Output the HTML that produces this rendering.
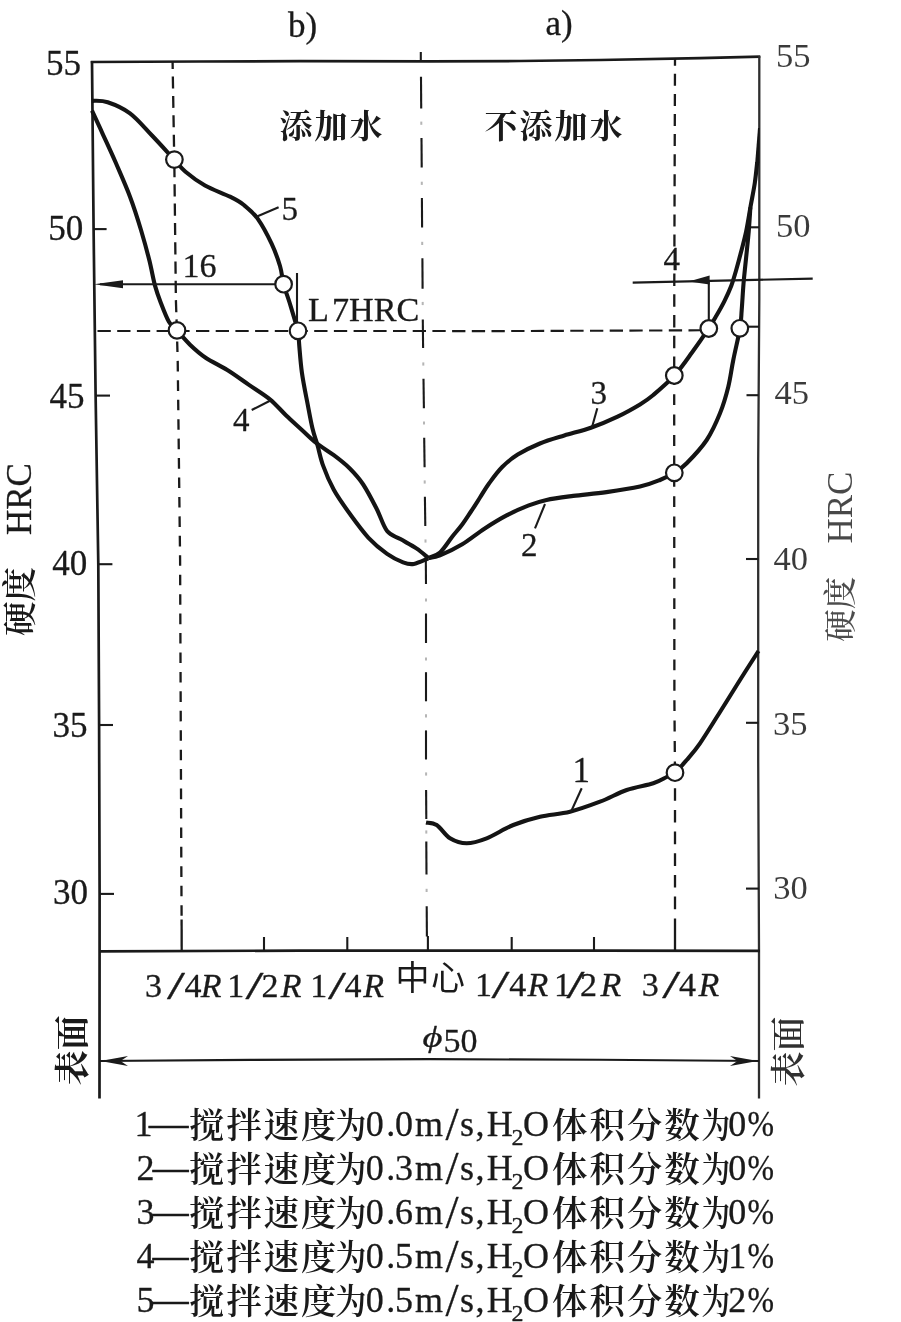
<!DOCTYPE html>
<html lang="zh-CN">
<head>
<meta charset="utf-8">
<title>硬度分布曲线</title>
<style>
  html, body { margin: 0; padding: 0; background: #ffffff; }
  body { width: 901px; height: 1322px; overflow: hidden; }
  svg { display: block; filter: blur(0.4px); }
  .lat { font-family: "Liberation Serif", "Noto Serif CJK SC", serif; fill: #1a1a1a; stroke: #1a1a1a; stroke-width: 0.3px; stroke-linejoin: round; }
  .lite { stroke-width: 0; }
  .song { font-family: "Liberation Serif", "Noto Serif CJK SC", serif; fill: #1a1a1a; }
  .hei { font-family: "Liberation Sans", "Noto Sans CJK SC", sans-serif; fill: #1a1a1a; }
  .ax { stroke: #1a1a1a; stroke-width: 2.7; fill: none; stroke-linecap: butt; }
  .thin { stroke: #1a1a1a; stroke-width: 2.1; fill: none; }
  .cv { stroke: #141414; stroke-width: 4.1; fill: none; stroke-linecap: butt; stroke-linejoin: round; }
  .dv { stroke: #1a1a1a; stroke-width: 2.3; fill: none; }
  .dvs { stroke: #1a1a1a; stroke-width: 2.3; fill: none; }
  .dh { stroke: #1a1a1a; stroke-width: 2.1; fill: none; }
  .cl { stroke: #1a1a1a; stroke-width: 2.1; fill: none; }
  .dot { stroke: #b5b5b5; stroke-width: 2; fill: none; }
  .pt { stroke: #1a1a1a; stroke-width: 2.2; fill: #ffffff; }
</style>
</head>
<body>
<svg width="901" height="1322" viewBox="0 0 901 1322">
  <rect x="0" y="0" width="901" height="1322" fill="#ffffff"/>

  <!-- ===== frame / axes ===== -->
  <g id="axes">
    <!-- top border -->
    <polyline class="ax" points="90.8,62 200,61.5 300,61.2 430,61.4 520,61 600,60 700,58.2 760.3,56.7"/>
    <!-- left axis -->
    <polyline class="ax" points="92,61 93.6,230 95.6,395 98.3,564 99.1,725 99.6,893 99.5,1098.5"/>
    <!-- right axis -->
    <polyline class="ax" style="stroke:#2e2e2e;stroke-width:2.3" points="759.3,56 759.3,300 758.2,460 758.2,760 759,950 759,1098.5"/>
    <!-- bottom axis -->
    <polyline class="ax" points="99,951.4 300,950.6 600,950.6 760,950.8"/>
    <!-- small tick above top border at centre -->
    <line class="thin" x1="420.8" y1="52" x2="420.8" y2="61"/>
  </g>

  <!-- ===== ticks ===== -->
  <g id="ticks" class="thin">
    <!-- left -->
    <line x1="93.6" y1="229.1" x2="106.6" y2="229.1"/>
    <line x1="95.6" y1="395.6" x2="110" y2="395.6"/>
    <line x1="98.3" y1="564.2" x2="112.4" y2="564.2"/>
    <line x1="99.1" y1="725" x2="113" y2="725"/>
    <line x1="99.6" y1="893.9" x2="114" y2="893.9"/>
    <!-- right -->
    <line x1="747.5" y1="227.3" x2="759" y2="227.3"/>
    <line x1="747.5" y1="326.7" x2="759" y2="326.7"/>
    <line x1="746.5" y1="395.2" x2="758.5" y2="395.2"/>
    <line x1="746" y1="559" x2="758.5" y2="559"/>
    <line x1="746" y1="722.8" x2="758.5" y2="722.8"/>
    <line x1="746" y1="888.6" x2="759" y2="888.6"/>
    <!-- bottom -->
    <line x1="264" y1="937" x2="264" y2="950.6"/>
    <line x1="347.3" y1="937" x2="347.3" y2="950.6"/>
    <line x1="511.7" y1="937" x2="511.7" y2="950.6"/>
    <line x1="594" y1="937" x2="594" y2="950.6"/>
  </g>

  <!-- ===== dashed reference lines ===== -->
  <g id="dashes">
    <!-- left 3/4R -->
    <polyline class="dv" points="172.6,62.0 174.1,151.0" stroke-dasharray="12 7.4" stroke-dashoffset="4.9"/>
    <polyline class="dv" points="174.4,168.0 175.9,300.0 176.6,322.0" stroke-dasharray="12.2 7.1" stroke-dashoffset="3"/>
    <polyline class="dv" points="177.1,339.0 177.7,360.0 180.1,560.0 181.3,860.0 181.6,917.0" stroke-dasharray="10.6 8.84" stroke-dashoffset="17"/>
    <line class="dvs" x1="181.6" y1="919.5" x2="181.7" y2="950.6"/>
    <!-- right 3/4R -->
    <polyline class="dv" points="675.0,59.0 674.4,250.0" stroke-dasharray="12 8.1" stroke-dashoffset="5.3"/>
    <polyline class="dv" points="674.4,262.0 674.3,280.0 674.2,367.0" stroke-dasharray="12.5 8.3" stroke-dashoffset="9.4"/>
    <polyline class="dv" points="674.2,384.0 674.2,473.0 674.4,700.0 674.9,764.0" stroke-dasharray="10.9 9.5" stroke-dashoffset="10.2"/>
    <polyline class="dv" points="675.0,781.0 675.0,917.0" stroke-dasharray="12.6 9.07" stroke-dashoffset="14.4"/>
    <line class="dvs" x1="675" y1="918.5" x2="675" y2="950.6"/>
    <!-- 47 HRC -->
    <polyline class="dh" points="96,331 300,331 500,331.1 700,330.3" stroke-dasharray="13.3 6.4" stroke-dashoffset="18.2"/>
    <!-- centre line (long dash / faint dot) -->
    <g class="cl">
      <line x1="421.0" y1="76.7" x2="421.2" y2="108.5"/>
      <line x1="421.5" y1="138.0" x2="421.7" y2="167.4"/>
      <line x1="421.9" y1="198.0" x2="422.1" y2="227.5"/>
      <line x1="422.4" y1="258.2" x2="422.6" y2="288.8"/>
      <line x1="422.8" y1="319.4" x2="423.1" y2="348.0"/>
      <line x1="423.5" y1="378.8" x2="423.9" y2="408.2"/>
      <line x1="424.2" y1="437.7" x2="424.6" y2="467.2"/>
      <line x1="424.9" y1="496.7" x2="425.3" y2="526.0"/>
      <line x1="425.8" y1="556.8" x2="426.0" y2="584.0"/>
      <line x1="426.0" y1="613.5" x2="426.0" y2="643.0"/>
      <line x1="426.0" y1="672.2" x2="426.0" y2="701.3"/>
      <line x1="426.0" y1="730.4" x2="426.0" y2="759.5"/>
      <line x1="426.1" y1="790.0" x2="426.3" y2="819.0"/>
      <line x1="426.3" y1="841.5" x2="426.5" y2="874.5"/>
      <line x1="426.7" y1="906.3" x2="426.9" y2="936.5"/>
      <line x1="427.9" y1="936" x2="427.9" y2="950.6"/>
    </g>
    <g class="dot">
      <line x1="421.3" y1="121.6" x2="421.3" y2="124.8"/>
      <line x1="421.8" y1="181.7" x2="421.8" y2="184.9"/>
      <line x1="422.2" y1="241.8" x2="422.2" y2="245.0"/>
      <line x1="422.7" y1="301.9" x2="422.7" y2="305.1"/>
      <line x1="423.3" y1="362.4" x2="423.3" y2="365.6"/>
      <line x1="424.0" y1="421.4" x2="424.0" y2="424.6"/>
      <line x1="424.7" y1="480.4" x2="424.7" y2="483.6"/>
      <line x1="425.5" y1="539.4" x2="425.5" y2="542.6"/>
      <line x1="426.0" y1="598.4" x2="426.0" y2="601.6"/>
      <line x1="426.0" y1="657.4" x2="426.0" y2="660.6"/>
      <line x1="426.0" y1="714.2" x2="426.0" y2="717.4"/>
      <line x1="426.1" y1="772.4" x2="426.1" y2="775.6"/>
      <line x1="426.3" y1="830.4" x2="426.3" y2="833.6"/>
      <line x1="426.6" y1="888.8" x2="426.6" y2="892.0"/>
    </g>
  </g>

  <!-- ===== curves ===== -->
  <g id="curves">
    <!-- curve 5 -->
    <path id="c5" class="cv" d="M92.0,100.8 C94.6,101.0 101.4,100.1 107.7,102.2 C114.0,104.3 122.6,107.8 130.0,113.3 C137.4,118.8 144.6,127.8 152.0,135.5 C159.4,143.2 168.8,153.7 174.4,159.7 C180.0,165.7 180.4,167.4 185.5,171.7 C190.6,176.0 197.6,181.3 205.0,185.5 C212.4,189.7 223.5,193.4 230.0,196.7 C236.5,199.9 239.3,201.3 243.9,205.0 C248.5,208.7 253.2,212.4 257.8,218.9 C262.4,225.4 268.0,236.1 271.7,243.9 C275.4,251.8 278.0,259.3 280.0,266.0 C282.0,272.7 282.0,278.0 283.6,284.2 C285.2,290.4 287.8,296.8 289.7,303.0 C291.6,309.2 293.9,317.1 295.3,321.7 C296.7,326.3 297.3,326.8 298.0,330.8 C298.7,334.9 298.7,339.0 299.3,346.0 C299.9,353.0 300.6,363.3 301.9,372.6 C303.2,381.9 305.4,392.6 307.2,401.9 C309.0,411.2 310.8,421.5 312.5,428.6 C314.2,435.7 315.5,438.3 317.3,444.5 C319.1,450.7 320.4,458.3 323.2,465.9 C325.9,473.4 329.4,481.8 333.8,489.8 C338.2,497.8 344.0,505.8 349.8,513.8 C355.6,521.8 362.3,531.1 368.5,537.8 C374.7,544.5 381.3,549.7 387.1,553.8 C392.9,557.9 398.7,560.6 403.1,562.3 C407.6,564.0 409.6,564.6 413.8,563.9 C418.0,563.2 426.0,559.2 428.4,558.3"/>
    <!-- curve 4 -->
    <path id="c4" class="cv" d="M92.0,110.6 C93.7,114.3 98.2,124.0 102.2,132.8 C106.2,141.6 111.4,152.7 116.0,163.3 C120.6,174.0 125.8,185.6 130.0,196.7 C134.2,207.8 137.8,219.3 141.0,230.0 C144.2,240.7 147.1,251.3 149.4,260.6 C151.7,269.9 153.1,278.7 155.0,285.6 C156.9,292.5 158.3,296.2 160.6,302.2 C162.9,308.2 166.2,317.0 168.9,321.7 C171.6,326.4 173.5,326.7 177.0,330.5 C180.5,334.3 185.2,340.1 190.0,344.7 C194.8,349.3 199.8,353.8 206.0,358.0 C212.2,362.2 220.2,365.6 227.3,370.0 C234.4,374.4 241.5,379.7 248.6,384.6 C255.7,389.5 263.7,394.2 269.9,399.3 C276.1,404.4 280.6,410.1 285.9,415.2 C291.2,420.3 296.8,425.2 301.9,429.9 C307.0,434.6 311.2,439.0 316.5,443.2 C321.8,447.4 328.2,451.0 333.8,455.2 C339.4,459.4 344.9,463.6 349.8,468.5 C354.7,473.4 358.8,477.8 363.2,484.5 C367.6,491.2 372.5,500.7 376.5,508.5 C380.5,516.3 383.1,526.0 387.1,531.1 C391.1,536.2 395.5,536.2 400.4,539.1 C405.3,542.0 411.7,545.2 416.4,548.4 C421.1,551.5 426.4,556.4 428.4,558.0"/>
    <!-- curve 3 -->
    <path id="c3" class="cv" d="M428.4,558.1 C430.3,557.2 436.1,556.0 440.0,552.5 C443.9,549.0 448.3,541.7 452.0,537.0 C455.7,532.3 459.0,528.8 462.2,524.5 C465.4,520.2 468.0,516.0 471.0,511.5 C474.0,507.0 477.0,502.2 480.0,497.5 C483.0,492.8 485.3,488.6 489.0,483.5 C492.7,478.4 497.4,471.8 502.2,467.0 C507.0,462.2 511.4,458.5 517.7,454.6 C524.0,450.7 532.1,446.7 539.9,443.5 C547.7,440.3 555.8,438.1 564.3,435.5 C572.8,432.9 582.0,430.8 590.9,427.7 C599.8,424.6 609.4,420.5 617.6,416.6 C625.8,412.7 634.0,408.0 640.0,404.4 C646.0,400.8 647.6,399.8 653.3,395.0 C659.0,390.2 667.8,382.8 674.3,375.7 C680.8,368.6 686.3,360.4 692.0,352.5 C697.7,344.6 704.6,334.5 708.7,328.3 C712.8,322.1 713.9,320.0 716.5,315.5 C719.1,311.0 721.8,306.3 724.3,301.3 C726.8,296.3 729.4,290.6 731.3,285.7 C733.2,280.8 734.1,277.2 735.7,271.7 C737.3,266.2 739.2,259.3 740.9,252.6 C742.6,245.9 744.5,239.2 746.1,231.7 C747.7,224.2 749.0,215.5 750.4,207.4 C751.8,199.3 753.7,190.5 754.8,183.0 C755.9,175.5 756.8,165.7 757.2,162.2"/>
    <polygon id="c3t" points="755.2,163 759.3,163 759.6,128 758,128" fill="#141414"/>
    <!-- curve 2 -->
    <path id="c2" class="cv" d="M428.4,558.1 C430.3,557.6 434.4,557.7 440.0,555.4 C445.6,553.1 454.8,548.8 462.2,544.3 C469.6,539.8 477.0,533.5 484.4,528.7 C491.8,523.9 499.2,519.3 506.6,515.4 C514.0,511.5 522.1,508.0 528.8,505.4 C535.4,502.8 539.1,501.5 546.5,499.9 C553.9,498.3 563.2,497.2 573.2,495.9 C583.2,494.6 595.4,493.7 606.5,492.1 C617.6,490.6 631.1,488.6 640.0,486.6 C648.9,484.6 654.3,482.3 660.0,480.0 C665.7,477.7 669.8,475.6 674.3,472.8 C678.8,470.0 681.3,468.8 686.7,463.3 C692.1,457.8 701.2,448.3 706.7,440.0 C712.2,431.7 716.4,422.2 720.0,413.3 C723.6,404.4 726.1,395.6 728.3,386.7 C730.5,377.8 731.3,369.7 733.3,360.0 C735.2,350.3 738.6,336.6 740.0,328.3 C741.4,320.0 741.1,317.4 741.7,310.0 C742.3,302.6 742.9,291.1 743.5,283.9 C744.1,276.6 744.6,272.3 745.2,266.5 C745.8,260.7 746.4,254.9 747.0,249.1 C747.6,243.3 748.1,238.6 748.7,231.7 C749.3,224.8 750.1,211.4 750.4,207.4"/>
    <!-- curve 1 -->
    <path id="c1" class="cv" d="M426.0,822.5 C427.8,822.9 432.7,822.4 436.7,825.0 C440.7,827.6 445.0,835.2 450.0,838.3 C455.0,841.3 460.6,843.3 466.7,843.3 C472.8,843.3 478.9,841.3 486.7,838.3 C494.5,835.2 504.4,828.6 513.3,825.0 C522.2,821.4 530.5,818.9 540.0,816.7 C549.5,814.5 560.0,814.2 570.0,811.7 C580.0,809.2 590.5,805.3 600.0,801.7 C609.5,798.1 617.8,793.1 626.7,790.0 C635.6,786.9 646.6,785.5 653.3,783.3 C660.0,781.1 663.1,778.8 666.7,777.0 C670.3,775.2 671.7,775.5 675.0,772.7 C678.3,769.9 682.5,764.9 686.7,760.0 C690.9,755.1 694.5,751.3 700.0,743.3 C705.5,735.3 713.3,722.5 720.0,712.0 C726.7,701.5 733.6,690.2 740.0,680.0 C746.4,669.8 755.4,655.8 758.5,651.0"/>
  </g>

  <!-- ===== annotation lines / arrows ===== -->
  <g id="ann">
    <!-- "16" arrow -->
    <line class="thin" x1="100" y1="284.2" x2="276" y2="284.2"/>
    <polygon points="94,284.2 123,280.2 123,288.2" fill="#1a1a1a"/>
    <line class="thin" x1="297" y1="273" x2="297" y2="322"/>
    <!-- "4" arrow -->
    <line class="thin" x1="632.7" y1="282.6" x2="812.7" y2="278.6"/>
    <polygon points="688.6,281.6 709.6,275.4 709.6,284.6" fill="#1a1a1a"/>
    <line class="thin" x1="708.8" y1="281" x2="708.8" y2="321"/>
    <!-- leaders -->
    <line class="thin" x1="256.4" y1="216.7" x2="278.6" y2="207.2"/>
    <line class="thin" x1="251.7" y1="410" x2="270" y2="400.7"/>
    <line class="thin" x1="597.3" y1="408.3" x2="591.7" y2="428.3"/>
    <line class="thin" x1="545" y1="504" x2="535" y2="528.3"/>
    <line class="thin" x1="581.7" y1="788.3" x2="571" y2="811.7"/>
    <!-- phi50 dimension line -->
    <polyline class="thin" points="100,1061 250,1059.9 430,1059.1 600,1059.8 759,1061"/>
    <polygon points="100.5,1061 128,1055.9 120.5,1061 128,1066.1" fill="#1a1a1a"/>
    <polygon points="757.6,1061 730,1055.9 737.5,1061 730,1066.1" fill="#1a1a1a"/>
  </g>

  <!-- ===== data points ===== -->
  <g id="points">
    <circle class="pt" cx="174.4" cy="159.6" r="8.3"/>
    <circle class="pt" cx="283.6" cy="284.2" r="8.3"/>
    <circle class="pt" cx="298" cy="330.8" r="8.3"/>
    <circle class="pt" cx="177" cy="330.4" r="8.3"/>
    <circle class="pt" cx="708.8" cy="328.5" r="8.3"/>
    <circle class="pt" cx="739.8" cy="328.3" r="8.3"/>
    <circle class="pt" cx="674.3" cy="375.5" r="8.3"/>
    <circle class="pt" cx="674.3" cy="472.8" r="8.3"/>
    <circle class="pt" cx="675" cy="772.7" r="8.3"/>
  </g>

  <!-- ===== text ===== -->
  <g id="labels">
    <text class="lat" x="288" y="36.8" font-size="35">b)</text>
    <text class="lat" x="545.5" y="35.2" font-size="35">a)</text>

    <!-- left scale -->
    <text class="lat" x="46" y="75" font-size="35">55</text>
    <text class="lat" x="48.3" y="239.6" font-size="35">50</text>
    <text class="lat" x="49.6" y="408" font-size="35">45</text>
    <text class="lat" x="52.3" y="575" font-size="35">40</text>
    <text class="lat" x="52.4" y="737" font-size="35">35</text>
    <text class="lat" x="52.9" y="903.6" font-size="35">30</text>
    <!-- right scale -->
    <text class="lat lite" x="776" y="66.7" font-size="34.5" fill-opacity="0.86">55</text>
    <text class="lat lite" x="775.9" y="236.7" font-size="34.5" fill-opacity="0.86">50</text>
    <text class="lat lite" x="774.6" y="404.2" font-size="34.5" fill-opacity="0.86">45</text>
    <text class="lat lite" x="773.5" y="570" font-size="34.5" fill-opacity="0.86">40</text>
    <text class="lat lite" x="773" y="734.7" font-size="34.5" fill-opacity="0.86">35</text>
    <text class="lat lite" x="773.2" y="898.8" font-size="34.5" fill-opacity="0.86">30</text>

    <!-- axis titles -->
    <text class="song" transform="translate(32.4,636) rotate(-90)" font-size="34.5" font-weight="600">硬度</text>
    <text class="lat" transform="translate(31.2,535) rotate(-90)" font-size="35">HRC</text>
    <text class="song" transform="translate(852.4,641.8) rotate(-90)" font-size="32.5" font-weight="500" fill-opacity="0.78">硬度</text>
    <text class="lat lite" transform="translate(852,543.6) rotate(-90)" font-size="35" fill-opacity="0.8">HRC</text>

    <!-- region titles -->
    <text class="song" x="279.6" y="138.4" font-size="33" font-weight="700" letter-spacing="2">添加水</text>
    <text class="song" x="484.6" y="138.4" font-size="33" font-weight="700" letter-spacing="2">不添加水</text>

    <!-- curve numbers -->
    <text class="lat" x="281.5" y="220.3" font-size="33">5</text>
    <text class="lat" x="233" y="430.7" font-size="33">4</text>
    <text class="lat" x="590.5" y="403.5" font-size="33">3</text>
    <text class="lat" x="521" y="556" font-size="33">2</text>
    <text class="lat" x="572.6" y="782" font-size="35">1</text>
    <text class="lat" x="182.5" y="277.3" font-size="34">16</text>
    <text class="lat" x="663.5" y="270" font-size="33">4</text>
    <text class="lat" x="308" y="321.2" font-size="34.2"><tspan>L</tspan><tspan dx="3">7HRC</tspan></text>

    <!-- bottom scale -->
    <text class="lat" x="145.0" y="996.8" font-size="34">3</text>
    <text class="lat" x="167" y="998.8" font-size="41" textLength="18" lengthAdjust="spacingAndGlyphs">/</text>
    <text class="lat" x="184.4" y="996.8" font-size="34">4</text>
    <text class="lat" x="200.8" y="996.8" font-size="34" font-style="italic">R</text>
    <text class="lat" x="227.3" y="996.8" font-size="34">1</text>
    <text class="lat" x="245.6" y="998.8" font-size="41" textLength="18" lengthAdjust="spacingAndGlyphs">/</text>
    <text class="lat" x="261.4" y="996.8" font-size="34">2</text>
    <text class="lat" x="280.8" y="996.8" font-size="34" font-style="italic">R</text>
    <text class="lat" x="310.3" y="996.6" font-size="34">1</text>
    <text class="lat" x="328" y="998.6" font-size="41" textLength="18" lengthAdjust="spacingAndGlyphs">/</text>
    <text class="lat" x="344.6" y="996.6" font-size="34">4</text>
    <text class="lat" x="363.2" y="996.6" font-size="34" font-style="italic">R</text>
    <text class="hei" x="395.4" y="990.3" font-size="34" font-weight="400" letter-spacing="1.6">中心</text>
    <text class="lat" x="474.9" y="995.8" font-size="34">1</text>
    <text class="lat" x="491.6" y="997.8" font-size="41" textLength="18" lengthAdjust="spacingAndGlyphs">/</text>
    <text class="lat" x="509.3" y="995.8" font-size="34">4</text>
    <text class="lat" x="527.4" y="995.8" font-size="34" font-style="italic">R</text>
    <text class="lat" x="554.0" y="995.8" font-size="34">1</text>
    <text class="lat" x="566.6" y="997.8" font-size="41" textLength="18" lengthAdjust="spacingAndGlyphs">/</text>
    <text class="lat" x="580.0" y="995.8" font-size="34">2</text>
    <text class="lat" x="600.4" y="995.8" font-size="34" font-style="italic">R</text>
    <text class="lat" x="641.8" y="996.4" font-size="34">3</text>
    <text class="lat" x="662.2" y="998.4" font-size="41" textLength="18" lengthAdjust="spacingAndGlyphs">/</text>
    <text class="lat" x="679.0" y="996.4" font-size="34">4</text>
    <text class="lat" x="698.6" y="996.4" font-size="34" font-style="italic">R</text>
    <text class="lat" x="422.6" y="1046.8" font-size="28.5" font-style="italic" textLength="20" lengthAdjust="spacingAndGlyphs">ϕ</text>
    <text class="lat" x="443.4" y="1051.6" font-size="34">50</text>

    <text class="song" transform="translate(85.4,1085.2) rotate(-90)" font-size="35" font-weight="700">表面</text>
    <text class="song" transform="translate(800.9,1086.4) rotate(-90)" font-size="35" font-weight="600" fill-opacity="0.9">表面</text>
  </g>

  <!-- ===== legend ===== -->
  <g id="legend" font-size="36">
    <g transform="translate(0,1136.2)">
      <text class="lat" x="134.6" y="0">1</text>
      <text class="lat" x="148.8" y="0" font-size="40" textLength="39.8" lengthAdjust="spacingAndGlyphs">—</text>
      <text class="song" x="189" y="1.5" font-size="35.5" font-weight="600" letter-spacing="1.75">搅拌速度</text>
      <text class="song" x="335.2" y="1.5" font-size="35.5" font-weight="600" textLength="31" lengthAdjust="spacingAndGlyphs">为</text>
      <text class="lat" x="365.7 386.2 395" y="0">0.0</text>
      <text class="lat" x="415 460 475.5 486.8" y="0">ms,H</text>
      <text class="lat" x="445.6" y="4.2" font-size="47">/</text>
      <text class="lat" x="511.6" y="8.6" font-size="24">2</text>
      <text class="lat" x="523" y="0">O</text>
      <text class="song" x="552" y="1.5" font-size="35.5" font-weight="600" letter-spacing="1.9">体积分数</text>
      <text class="song" x="701.5" y="1.5" font-size="35.5" font-weight="600" textLength="28.5" lengthAdjust="spacingAndGlyphs">为</text>
      <text class="lat" x="728.3" y="0">0</text>
      <text class="lat" x="747.4" y="0" textLength="26.5" lengthAdjust="spacingAndGlyphs">%</text>
    </g>
    <g transform="translate(0,1180.2)">
      <text class="lat" x="136.4" y="0">2</text>
      <text class="lat" x="152.4" y="0" font-size="40" textLength="36.2" lengthAdjust="spacingAndGlyphs">—</text>
      <text class="song" x="189" y="1.5" font-size="35.5" font-weight="600" letter-spacing="1.75">搅拌速度</text>
      <text class="song" x="335.2" y="1.5" font-size="35.5" font-weight="600" textLength="31" lengthAdjust="spacingAndGlyphs">为</text>
      <text class="lat" x="365.7 386.2 395" y="0">0.3</text>
      <text class="lat" x="415 460 475.5 486.8" y="0">ms,H</text>
      <text class="lat" x="445.6" y="4.2" font-size="47">/</text>
      <text class="lat" x="511.6" y="8.6" font-size="24">2</text>
      <text class="lat" x="523" y="0">O</text>
      <text class="song" x="552" y="1.5" font-size="35.5" font-weight="600" letter-spacing="1.9">体积分数</text>
      <text class="song" x="701.5" y="1.5" font-size="35.5" font-weight="600" textLength="28.5" lengthAdjust="spacingAndGlyphs">为</text>
      <text class="lat" x="728.3" y="0">0</text>
      <text class="lat" x="747.4" y="0" textLength="26.5" lengthAdjust="spacingAndGlyphs">%</text>
    </g>
    <g transform="translate(0,1224.1)">
      <text class="lat" x="136.4" y="0">3</text>
      <text class="lat" x="152.4" y="0" font-size="40" textLength="36.2" lengthAdjust="spacingAndGlyphs">—</text>
      <text class="song" x="189" y="1.5" font-size="35.5" font-weight="600" letter-spacing="1.75">搅拌速度</text>
      <text class="song" x="335.2" y="1.5" font-size="35.5" font-weight="600" textLength="31" lengthAdjust="spacingAndGlyphs">为</text>
      <text class="lat" x="365.7 386.2 395" y="0">0.6</text>
      <text class="lat" x="415 460 475.5 486.8" y="0">ms,H</text>
      <text class="lat" x="445.6" y="4.2" font-size="47">/</text>
      <text class="lat" x="511.6" y="8.6" font-size="24">2</text>
      <text class="lat" x="523" y="0">O</text>
      <text class="song" x="552" y="1.5" font-size="35.5" font-weight="600" letter-spacing="1.9">体积分数</text>
      <text class="song" x="701.5" y="1.5" font-size="35.5" font-weight="600" textLength="28.5" lengthAdjust="spacingAndGlyphs">为</text>
      <text class="lat" x="728.3" y="0">0</text>
      <text class="lat" x="747.4" y="0" textLength="26.5" lengthAdjust="spacingAndGlyphs">%</text>
    </g>
    <g transform="translate(0,1268.1)">
      <text class="lat" x="136.4" y="0">4</text>
      <text class="lat" x="152.4" y="0" font-size="40" textLength="36.2" lengthAdjust="spacingAndGlyphs">—</text>
      <text class="song" x="189" y="1.5" font-size="35.5" font-weight="600" letter-spacing="1.75">搅拌速度</text>
      <text class="song" x="335.2" y="1.5" font-size="35.5" font-weight="600" textLength="31" lengthAdjust="spacingAndGlyphs">为</text>
      <text class="lat" x="365.7 386.2 395" y="0">0.5</text>
      <text class="lat" x="415 460 475.5 486.8" y="0">ms,H</text>
      <text class="lat" x="445.6" y="4.2" font-size="47">/</text>
      <text class="lat" x="511.6" y="8.6" font-size="24">2</text>
      <text class="lat" x="523" y="0">O</text>
      <text class="song" x="552" y="1.5" font-size="35.5" font-weight="600" letter-spacing="1.9">体积分数</text>
      <text class="song" x="701.5" y="1.5" font-size="35.5" font-weight="600" textLength="28.5" lengthAdjust="spacingAndGlyphs">为</text>
      <text class="lat" x="728.3" y="0">1</text>
      <text class="lat" x="747.4" y="0" textLength="26.5" lengthAdjust="spacingAndGlyphs">%</text>
    </g>
    <g transform="translate(0,1312.0)">
      <text class="lat" x="136.4" y="0">5</text>
      <text class="lat" x="152.4" y="0" font-size="40" textLength="36.2" lengthAdjust="spacingAndGlyphs">—</text>
      <text class="song" x="189" y="1.5" font-size="35.5" font-weight="600" letter-spacing="1.75">搅拌速度</text>
      <text class="song" x="335.2" y="1.5" font-size="35.5" font-weight="600" textLength="31" lengthAdjust="spacingAndGlyphs">为</text>
      <text class="lat" x="365.7 386.2 395" y="0">0.5</text>
      <text class="lat" x="415 460 475.5 486.8" y="0">ms,H</text>
      <text class="lat" x="445.6" y="4.2" font-size="47">/</text>
      <text class="lat" x="511.6" y="8.6" font-size="24">2</text>
      <text class="lat" x="523" y="0">O</text>
      <text class="song" x="552" y="1.5" font-size="35.5" font-weight="600" letter-spacing="1.9">体积分数</text>
      <text class="song" x="701.5" y="1.5" font-size="35.5" font-weight="600" textLength="28.5" lengthAdjust="spacingAndGlyphs">为</text>
      <text class="lat" x="728.3" y="0">2</text>
      <text class="lat" x="747.4" y="0" textLength="26.5" lengthAdjust="spacingAndGlyphs">%</text>
    </g>
  </g>
</svg>
</body>
</html>
